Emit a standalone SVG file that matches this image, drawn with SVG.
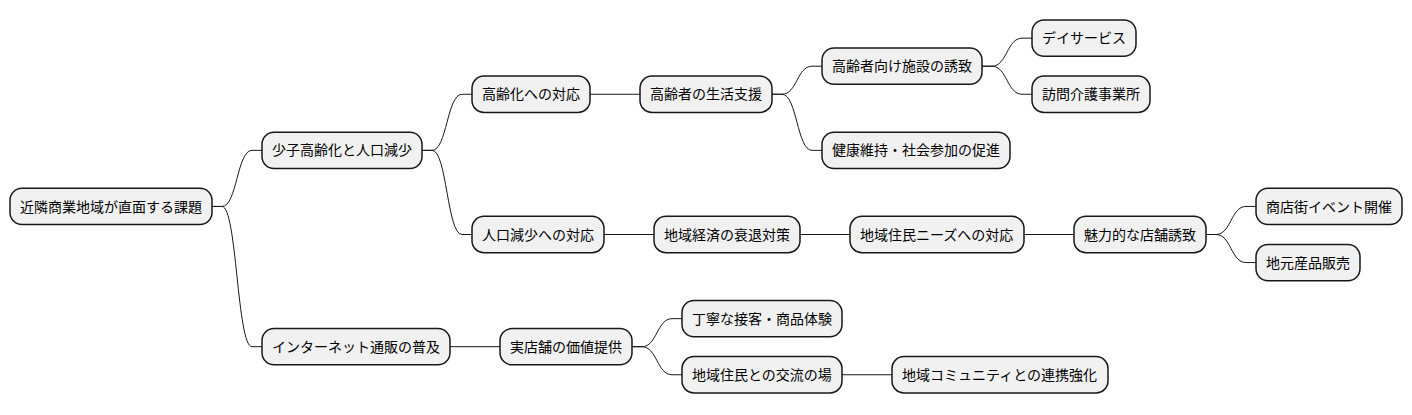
<svg xmlns="http://www.w3.org/2000/svg" width="1412" height="415" viewBox="0 0 1412 415">
<style>
.n rect{fill:#F1F1F1;stroke:#181818;stroke-width:1.5}
.n text{font-family:"Noto Sans CJK JP","Noto Sans",sans-serif;font-size:14px;fill:#000}
.c path{fill:none;stroke:#181818;stroke-width:1}
</style>
<rect width="1412" height="415" fill="#FFFFFF"/>
<g class="c" id="connectors">
<path d="M212,206.45 L222,206.45 C237,206.45 237,150.35 252,150.35 L262,150.35"/>
<path d="M212,206.45 L222,206.45 C237,206.45 237,346.7 252,346.7 L262,346.7"/>
<path d="M422,150.35 L432,150.35 C447,150.35 447,94.25 462,94.25 L472,94.25"/>
<path d="M422,150.35 L432,150.35 C447,150.35 447,234.5 462,234.5 L472,234.5"/>
<path d="M590,94.25 L640,94.25"/>
<path d="M772,94.25 L782,94.25 C797,94.25 797,66.2 812,66.2 L822,66.2"/>
<path d="M772,94.25 L782,94.25 C797,94.25 797,150.35 812,150.35 L822,150.35"/>
<path d="M982,66.2 L992,66.2 C1007,66.2 1007,38.15 1022,38.15 L1032,38.15"/>
<path d="M982,66.2 L992,66.2 C1007,66.2 1007,94.25 1022,94.25 L1032,94.25"/>
<path d="M604,234.5 L654,234.5"/>
<path d="M800,234.5 L850,234.5"/>
<path d="M1024,234.5 L1074,234.5"/>
<path d="M1206,234.5 L1216,234.5 C1231,234.5 1231,206.45 1246,206.45 L1256,206.45"/>
<path d="M1206,234.5 L1216,234.5 C1231,234.5 1231,262.55 1246,262.55 L1256,262.55"/>
<path d="M450,346.7 L500,346.7"/>
<path d="M632,346.7 L642,346.7 C657,346.7 657,318.65 672,318.65 L682,318.65"/>
<path d="M632,346.7 L642,346.7 C657,346.7 657,374.75 672,374.75 L682,374.75"/>
<path d="M842,374.75 L892,374.75"/>
</g>
<g class="n" id="root"><rect x="10" y="188.3" width="202" height="36.3" rx="12"/><text x="20" y="211.5">近隣商業地域が直面する課題</text></g>
<g class="n" id="n1"><rect x="262" y="132.2" width="160" height="36.3" rx="12"/><text x="272" y="155.4">少子高齢化と人口減少</text></g>
<g class="n" id="n2"><rect x="262" y="328.55" width="188" height="36.3" rx="12"/><text x="272" y="351.7">インターネット通販の普及</text></g>
<g class="n" id="n11"><rect x="472" y="76.1" width="118" height="36.3" rx="12"/><text x="482" y="99.3">高齢化への対応</text></g>
<g class="n" id="n12"><rect x="472" y="216.35" width="132" height="36.3" rx="12"/><text x="482" y="239.5">人口減少への対応</text></g>
<g class="n" id="n111"><rect x="640" y="76.1" width="132" height="36.3" rx="12"/><text x="650" y="99.3">高齢者の生活支援</text></g>
<g class="n" id="n121"><rect x="654" y="216.35" width="146" height="36.3" rx="12"/><text x="664" y="239.5">地域経済の衰退対策</text></g>
<g class="n" id="n1111"><rect x="822" y="48.05" width="160" height="36.3" rx="12"/><text x="832" y="71.2">高齢者向け施設の誘致</text></g>
<g class="n" id="n1112"><rect x="822" y="132.2" width="188" height="36.3" rx="12"/><text x="832" y="155.4">健康維持・社会参加の促進</text></g>
<g class="n" id="n11111"><rect x="1032" y="20" width="104" height="36.3" rx="12"/><text x="1042" y="43.2">デイサービス</text></g>
<g class="n" id="n11112"><rect x="1032" y="76.1" width="118" height="36.3" rx="12"/><text x="1042" y="99.3">訪問介護事業所</text></g>
<g class="n" id="n1211"><rect x="850" y="216.35" width="174" height="36.3" rx="12"/><text x="860" y="239.5">地域住民ニーズへの対応</text></g>
<g class="n" id="n12111"><rect x="1074" y="216.35" width="132" height="36.3" rx="12"/><text x="1084" y="239.5">魅力的な店舗誘致</text></g>
<g class="n" id="n121111"><rect x="1256" y="188.3" width="146" height="36.3" rx="12"/><text x="1266" y="211.5">商店街イベント開催</text></g>
<g class="n" id="n121112"><rect x="1256" y="244.4" width="104" height="36.3" rx="12"/><text x="1266" y="267.6">地元産品販売</text></g>
<g class="n" id="n21"><rect x="500" y="328.55" width="132" height="36.3" rx="12"/><text x="510" y="351.7">実店舗の価値提供</text></g>
<g class="n" id="n211"><rect x="682" y="300.5" width="160" height="36.3" rx="12"/><text x="692" y="323.7">丁寧な接客・商品体験</text></g>
<g class="n" id="n212"><rect x="682" y="356.6" width="160" height="36.3" rx="12"/><text x="692" y="379.8">地域住民との交流の場</text></g>
<g class="n" id="n2121"><rect x="892" y="356.6" width="216" height="36.3" rx="12"/><text x="902" y="379.8">地域コミュニティとの連携強化</text></g>
</svg>
